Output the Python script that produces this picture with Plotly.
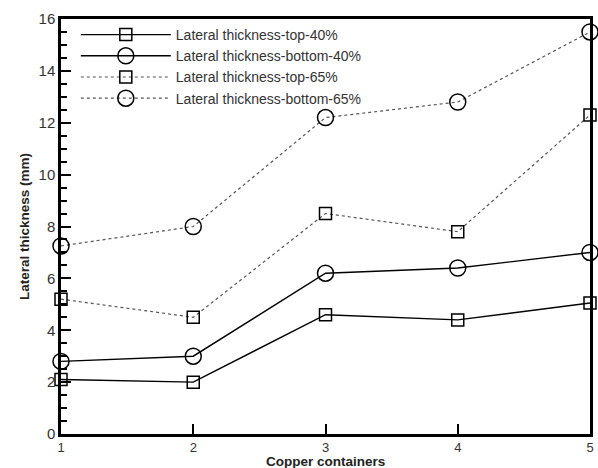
import plotly.graph_objects as go

containers = [1, 2, 3, 4, 5]
top_40 = [2.1, 2.0, 4.6, 4.4, 5.05]
bottom_40 = [2.8, 3.0, 6.2, 6.4, 7.0]
top_65 = [5.2, 4.5, 8.5, 7.8, 12.3]
bottom_65 = [7.25, 8.0, 12.2, 12.8, 15.5]

series = [
    ("Lateral thickness-top-40%", top_40, "square-open", 12, "solid", 1.4, "black"),
    ("Lateral thickness-bottom-40%", bottom_40, "circle-open", 16, "solid", 1.4, "black"),
    ("Lateral thickness-top-65%", top_65, "square-open", 12, "dot", 1.2, "#555555"),
    ("Lateral thickness-bottom-65%", bottom_65, "circle-open", 16, "dot", 1.2, "#555555"),
]

fig = go.Figure()
for name, vals, sym, size, dash, lw, lc in series:
    fig.add_trace(go.Scatter(
        x=containers, y=vals, name=name, mode="lines+markers",
        line=dict(color=lc, width=lw, dash=dash),
        marker=dict(symbol=sym, size=size, color="black", line=dict(width=1.5, color="black")),
        cliponaxis=False,
    ))

fig.update_layout(
    width=598, height=468,
    margin=dict(l=61, r=8, t=19, b=34),
    paper_bgcolor="white", plot_bgcolor="white",
    font=dict(family="Liberation Sans, Arial, sans-serif", color="#222222"),
    showlegend=True,
    legend=dict(x=0.028, y=1.0, xanchor="left", yanchor="top",
                font=dict(size=14, color="#333333"), bgcolor="rgba(0,0,0,0)",
                itemwidth=90, tracegroupgap=0),
    annotations=[dict(
        text="<b>Copper containers</b>", xref="paper", yref="paper",
        x=0.5, y=-(461 - 434) / 415, xanchor="center", yanchor="middle",
        showarrow=False, font=dict(size=13.5, color="#222222"),
        borderpad=0,
    )],
)
fig.update_xaxes(
    range=[1, 5], tickvals=containers, ticktext=[str(c) for c in containers],
    ticks="inside", ticklen=10, tickwidth=2, tickcolor="black",
    showline=True, linewidth=2.5, linecolor="black", mirror=True,
    showgrid=False, zeroline=False, automargin=False,
    tickfont=dict(size=13, color="#333333"),
)
fig.update_yaxes(
    range=[0, 16], dtick=2, tick0=0,
    ticks="inside", ticklen=10, tickwidth=2, tickcolor="black",
    minor=dict(dtick=0.5, ticks="inside", ticklen=6, tickwidth=1.5, tickcolor="black"),
    showline=True, linewidth=2.5, linecolor="black", mirror=True,
    showgrid=False, zeroline=False, automargin=False,
    tickfont=dict(size=15, color="#333333"),
    title=dict(text="<b>Lateral thickness (mm)</b>", font=dict(size=13.5, color="#222222"), standoff=6),
)

# Remove the default 8px page margin so the figure sits at the window's corner.
fig.write_html(
    "out.html",
    config={"displayModeBar": False},
    post_script="document.body.style.margin='0';document.body.style.overflow='hidden';",
)
